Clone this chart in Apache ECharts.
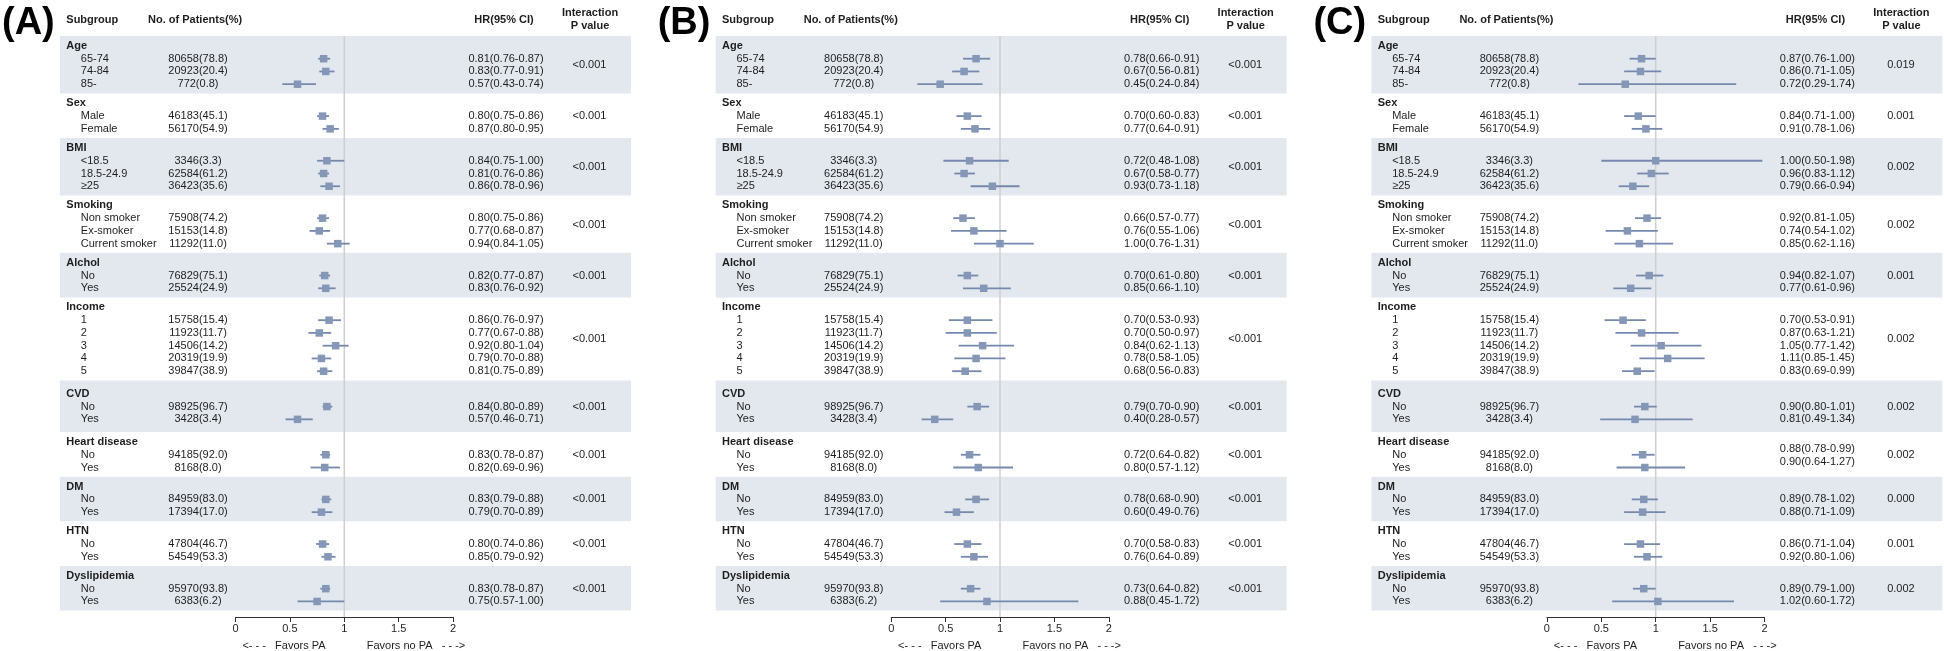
<!DOCTYPE html>
<html><head><meta charset="utf-8">
<script src="https://cdn.jsdelivr.net/npm/echarts@6/dist/echarts.min.js"></script>
<style>html,body{margin:0;padding:0;background:#fff}#c{width:1944px;height:651px}</style>
</head><body><div id="c"></div>
<script>
// ---------------- DATA ----------------
const panelLabels = ['(A)', '(B)', '(C)'];
const groupNames = ['Age', 'Sex', 'BMI', 'Smoking', 'Alchol', 'Income', 'CVD', 'Heart disease', 'DM', 'HTN', 'Dyslipidemia'];
const groupSizes = [3, 2, 3, 3, 2, 5, 2, 2, 2, 2, 2];
const itemLabels = ['65-74', '74-84', '85-', 'Male', 'Female', '<18.5', '18.5-24.9', '≥25',
  'Non smoker', 'Ex-smoker', 'Current smoker', 'No', 'Yes', '1', '2', '3', '4', '5',
  'No', 'Yes', 'No', 'Yes', 'No', 'Yes', 'No', 'Yes', 'No', 'Yes'];
const patients = ['80658(78.8)', '20923(20.4)', '772(0.8)', '46183(45.1)', '56170(54.9)',
  '3346(3.3)', '62584(61.2)', '36423(35.6)', '75908(74.2)', '15153(14.8)', '11292(11.0)',
  '76829(75.1)', '25524(24.9)', '15758(15.4)', '11923(11.7)', '14506(14.2)', '20319(19.9)', '39847(38.9)',
  '98925(96.7)', '3428(3.4)', '94185(92.0)', '8168(8.0)', '84959(83.0)', '17394(17.0)',
  '47804(46.7)', '54549(53.3)', '95970(93.8)', '6383(6.2)'];

const hrA = [0.81, 0.83, 0.57, 0.80, 0.87, 0.84, 0.81, 0.86, 0.80, 0.77, 0.94, 0.82, 0.83, 0.86, 0.77, 0.92, 0.79, 0.81, 0.84, 0.57, 0.83, 0.82, 0.83, 0.79, 0.80, 0.85, 0.83, 0.75];
const loA = [0.76, 0.77, 0.43, 0.75, 0.80, 0.75, 0.76, 0.78, 0.75, 0.68, 0.84, 0.77, 0.76, 0.76, 0.67, 0.80, 0.70, 0.75, 0.80, 0.46, 0.78, 0.69, 0.79, 0.70, 0.74, 0.79, 0.78, 0.57];
const hiA = [0.87, 0.91, 0.74, 0.86, 0.95, 1.00, 0.86, 0.96, 0.86, 0.87, 1.05, 0.87, 0.92, 0.97, 0.88, 1.04, 0.88, 0.89, 0.89, 0.71, 0.87, 0.96, 0.88, 0.89, 0.86, 0.92, 0.87, 1.00];
const pA = ['<0.001', '<0.001', '<0.001', '<0.001', '<0.001', '<0.001', '<0.001', '<0.001', '<0.001', '<0.001', '<0.001'];

const hrB = [0.78, 0.67, 0.45, 0.70, 0.77, 0.72, 0.67, 0.93, 0.66, 0.76, 1.00, 0.70, 0.85, 0.70, 0.70, 0.84, 0.78, 0.68, 0.79, 0.40, 0.72, 0.80, 0.78, 0.60, 0.70, 0.76, 0.73, 0.88];
const loB = [0.66, 0.56, 0.24, 0.60, 0.64, 0.48, 0.58, 0.73, 0.57, 0.55, 0.76, 0.61, 0.66, 0.53, 0.50, 0.62, 0.58, 0.56, 0.70, 0.28, 0.64, 0.57, 0.68, 0.49, 0.58, 0.64, 0.64, 0.45];
const hiB = [0.91, 0.81, 0.84, 0.83, 0.91, 1.08, 0.77, 1.18, 0.77, 1.06, 1.31, 0.80, 1.10, 0.93, 0.97, 1.13, 1.05, 0.83, 0.90, 0.57, 0.82, 1.12, 0.90, 0.76, 0.83, 0.89, 0.82, 1.72];
const pB = ['<0.001', '<0.001', '<0.001', '<0.001', '<0.001', '<0.001', '<0.001', '<0.001', '<0.001', '<0.001', '<0.001'];

const hrC = [0.87, 0.86, 0.72, 0.84, 0.91, 1.00, 0.96, 0.79, 0.92, 0.74, 0.85, 0.94, 0.77, 0.70, 0.87, 1.05, 1.11, 0.83, 0.90, 0.81, 0.88, 0.90, 0.89, 0.88, 0.86, 0.92, 0.89, 1.02];
const loC = [0.76, 0.71, 0.29, 0.71, 0.78, 0.50, 0.83, 0.66, 0.81, 0.54, 0.62, 0.82, 0.61, 0.53, 0.63, 0.77, 0.85, 0.69, 0.80, 0.49, 0.78, 0.64, 0.78, 0.71, 0.71, 0.80, 0.79, 0.60];
const hiC = [1.00, 1.05, 1.74, 1.00, 1.06, 1.98, 1.12, 0.94, 1.05, 1.02, 1.16, 1.07, 0.96, 0.91, 1.21, 1.42, 1.45, 0.99, 1.01, 1.34, 0.99, 1.27, 1.02, 1.09, 1.04, 1.06, 1.00, 1.72];
const pC = ['0.019', '0.001', '0.002', '0.002', '0.001', '0.002', '0.002', '0.002', '0.000', '0.001', '0.002'];

// ---------------- LAYOUT ----------------
const panels = [
  { hr: hrA, lo: loA, hi: hiA, p: pA, hrShift: {} },
  { hr: hrB, lo: loB, hi: hiB, p: pB, hrShift: {} },
  { hr: hrC, lo: loC, hi: hiC, p: pC, hrShift: { 7: -0.45 } }
];
const panelX = [0, 655.7, 1311.4];
const FONT = "'Liberation Sans', Arial, sans-serif";
const FS = 11;
const TXT = '#1e1e1e';
const extraPad = { 6: 0.55 };

let cursor = 0;
const headerY = [], rowY = [], rowGroup = [], bandTop = [], bandBot = [];
groupSizes.forEach((n, g) => {
  const ex = extraPad[g] || 0;
  const top = cursor;
  const h = top + 0.78 + ex / 2;
  headerY.push(h);
  for (let k = 0; k < n; k++) { rowY.push(h + 1 + k); rowGroup.push(g); }
  cursor = top + n + 1.5 + ex;
  bandTop.push(top); bandBot.push(cursor);
});
const Y_MAX = cursor + 0.5;
const GRID_TOP = 36, GRID_H = 581, GRID_OFF = 235.5, GRID_W = 217.6;

// column offsets relative to the grid's left edge
const COL = { head: -169.2, item: -154.7, count: -37.5, hr: 270.5, p: 354 };

const fmt = v => v.toFixed(2);

const grids = [], xAxes = [], yAxes = [], series = [], graphics = [];

panels.forEach((pn, pi) => {
  const ox = panelX[pi];
  grids.push({ left: ox + GRID_OFF, top: GRID_TOP, width: GRID_W, height: GRID_H });
  xAxes.push({
    gridIndex: pi, type: 'value', min: 0, max: 2, interval: 0.5, position: 'bottom',
    axisLine: { show: true, onZero: false, lineStyle: { color: '#333', width: 1 } },
    axisTick: { show: true, length: 5, lineStyle: { color: '#333' } },
    axisLabel: { fontSize: FS, fontFamily: FONT, color: TXT, margin: 6 },
    splitLine: { show: false }
  });
  yAxes.push({ gridIndex: pi, type: 'value', min: 0, max: Y_MAX, inverse: true, show: false });

  // shaded bands
  const bandIdx = groupNames.map((_, g) => g).filter(g => g % 2 === 0);
  series.push({
    type: 'custom', xAxisIndex: pi, yAxisIndex: pi, z: 0, silent: true,
    data: bandIdx.map(g => [0, bandTop[g], bandBot[g]]),
    renderItem: (params, api) => {
      const cs = params.coordSys;
      const y1 = api.coord([0, api.value(1)])[1];
      const y2 = api.coord([0, api.value(2)])[1];
      return { type: 'rect', shape: { x: cs.x - 175.5, y: y1, width: 571, height: y2 - y1 },
        style: { fill: '#e3e8ef' } };
    }
  });

  // reference line at HR = 1
  series.push({
    type: 'custom', xAxisIndex: pi, yAxisIndex: pi, z: 1, silent: true,
    data: [[1, 0, Y_MAX]],
    renderItem: (params, api) => {
      const a = api.coord([api.value(0), api.value(1)]);
      const b = api.coord([api.value(0), api.value(2)]);
      return { type: 'line', shape: { x1: a[0], y1: a[1], x2: b[0], y2: b[1] },
        style: { stroke: '#cfcfcf', lineWidth: 1.5 } };
    }
  });

  // CI lines + squares
  series.push({
    type: 'custom', xAxisIndex: pi, yAxisIndex: pi, z: 3, silent: true,
    data: pn.hr.map((h, i) => [h, pn.lo[i], pn.hi[i], rowY[i]]),
    renderItem: (params, api) => {
      const y = api.value(3);
      const c = api.coord([api.value(0), y]);
      const l = api.coord([api.value(1), y]);
      const r = api.coord([api.value(2), y]);
      const s = 7.5;
      return { type: 'group', children: [
        { type: 'line', shape: { x1: l[0], y1: l[1], x2: r[0], y2: r[1] }, style: { stroke: '#7489ad', lineWidth: 1.8 } },
        { type: 'rect', shape: { x: c[0] - s / 2, y: c[1] - s / 2, width: s, height: s }, style: { fill: '#8497b6' } }
      ] };
    }
  });

  // text entries
  const entries = [];
  groupNames.forEach((g, gi) => {
    entries.push({ y: headerY[gi], text: g, col: 'head', bold: true, align: 'left' });
    const n = groupSizes[gi];
    entries.push({ y: headerY[gi] + n / 2, text: pn.p[gi], col: 'p', align: 'center' });
  });
  itemLabels.forEach((t, i) => {
    entries.push({ y: rowY[i], text: t, col: 'item', align: 'left' });
    entries.push({ y: rowY[i], text: patients[i], col: 'count', align: 'center' });
    const sh = pn.hrShift[rowGroup[i]] || 0;
    entries.push({ y: rowY[i] + sh, text: fmt(pn.hr[i]) + '(' + fmt(pn.lo[i]) + '-' + fmt(pn.hi[i]) + ')', col: 'hr', align: 'center' });
  });
  series.push({
    type: 'custom', xAxisIndex: pi, yAxisIndex: pi, z: 4, silent: true,
    data: entries.map(e => [0, e.y]),
    renderItem: (params, api) => {
      const e = entries[params.dataIndex];
      const cs = params.coordSys;
      const y = api.coord([0, api.value(1)])[1];
      return { type: 'text', style: {
        x: cs.x + COL[e.col], y: y, text: e.text, fill: TXT,
        fontSize: FS, fontFamily: FONT, fontWeight: e.bold ? 'bold' : 'normal',
        align: e.align, textAlign: e.align, verticalAlign: 'middle', textVerticalAlign: 'middle'
      } };
    }
  });

  // headers
  const t = (x, y, text, opt) => graphics.push({ type: 'text', x: x, y: y, silent: true, style: Object.assign({
    text: text, fill: TXT, fontSize: FS, fontFamily: FONT, fontWeight: 'bold',
    align: 'left', textAlign: 'left', verticalAlign: 'middle', textVerticalAlign: 'middle' }, opt || {}) });
  t(ox + 2, 24, panelLabels[pi], { fontSize: 38, fill: '#000' });
  t(ox + 66.3, 20, 'Subgroup');
  t(ox + 148, 20, 'No. of Patients(%)');
  t(ox + 504, 20, 'HR(95% CI)', { align: 'center', textAlign: 'center' });
  t(ox + 590, 13, 'Interaction', { align: 'center', textAlign: 'center' });
  t(ox + 590, 26, 'P value', { align: 'center', textAlign: 'center' });
  t(ox + 284, 646, '<- - -   Favors PA', { fontWeight: 'normal', align: 'center', textAlign: 'center' });
  t(ox + 416, 646, 'Favors no PA   - - ->', { fontWeight: 'normal', align: 'center', textAlign: 'center' });
});

const chart = echarts.init(document.getElementById('c'), null, { renderer: 'canvas' });
chart.setOption({
  animation: false,
  backgroundColor: '#ffffff',
  grid: grids, xAxis: xAxes, yAxis: yAxes, series: series,
  graphic: { elements: graphics }
});
</script></body></html>
